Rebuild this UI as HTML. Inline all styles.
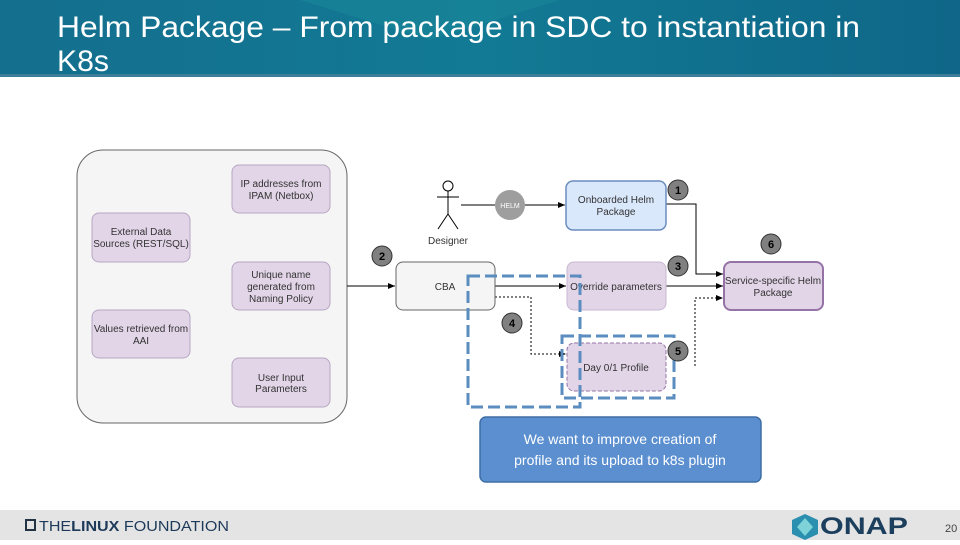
<!DOCTYPE html>
<html><head><meta charset="utf-8"><style>
body{margin:0;width:960px;height:540px;overflow:hidden;background:#fff;font-family:"Liberation Sans",sans-serif}
</style></head><body>
<svg width="960" height="540" xmlns="http://www.w3.org/2000/svg" font-family="Liberation Sans, sans-serif">
<defs>
<linearGradient id="hg" x1="0" y1="0" x2="1" y2="0"><stop offset="0" stop-color="#146e8e"/><stop offset="0.5" stop-color="#127a94"/><stop offset="1" stop-color="#0f6688"/></linearGradient>
<marker id="a" markerWidth="8" markerHeight="8" refX="7" refY="4" orient="auto" markerUnits="userSpaceOnUse"><path d="M0,1 L7,4 L0,7 Z" fill="#000"/></marker>
</defs>
<rect x="0" y="0" width="960" height="76" fill="url(#hg)"/>
<polygon points="300,0 560,0 430,40" fill="#1a8a9a" opacity="0.5"/>
<rect x="0" y="74" width="960" height="3" fill="#3d7f9a"/>
<text x="57" y="37" font-size="30" fill="#fff" textLength="803" lengthAdjust="spacingAndGlyphs">Helm Package – From package in SDC to instantiation in</text>
<text x="57" y="71" font-size="30" fill="#fff" textLength="52" lengthAdjust="spacingAndGlyphs">K8s</text>

<rect x="77" y="150" width="270" height="273" rx="26" fill="#f5f5f5" stroke="#666" stroke-width="1"/>
<g fill="#e1d5e7" stroke="#b8a6c2" stroke-width="1">
<rect x="232" y="165" width="98" height="48" rx="7"/>
<rect x="92" y="213" width="98" height="49" rx="7"/>
<rect x="232" y="262" width="98" height="48" rx="7"/>
<rect x="92" y="310" width="98" height="48" rx="7"/>
<rect x="232" y="358" width="98" height="49" rx="7"/>
</g>
<g font-size="10" fill="#333" text-anchor="middle">
<text x="281" y="187">IP addresses from</text><text x="281" y="199">IPAM (Netbox)</text>
<text x="141" y="235">External Data</text><text x="141" y="247">Sources (REST/SQL)</text>
<text x="281" y="278">Unique name</text><text x="281" y="290">generated from</text><text x="281" y="302">Naming Policy</text>
<text x="141" y="332">Values retrieved from</text><text x="141" y="344">AAI</text>
<text x="281" y="381">User Input</text><text x="281" y="392">Parameters</text>
</g>

<g stroke="#000" stroke-width="1" fill="none">
<circle cx="448" cy="186" r="5" fill="#fff"/>
<line x1="448" y1="191" x2="448" y2="214"/><line x1="437" y1="197" x2="459" y2="197"/>
<line x1="448" y1="214" x2="438" y2="229"/><line x1="448" y1="214" x2="458" y2="229"/>
</g>
<text x="448" y="244" font-size="10" fill="#333" text-anchor="middle">Designer</text>

<g stroke="#000" stroke-width="1" fill="none">
<line x1="461" y1="205" x2="495" y2="205"/>
<line x1="525" y1="205" x2="565" y2="205" marker-end="url(#a)"/>
<polyline points="666,204 696,204 696,274 723,274" marker-end="url(#a)"/>
<line x1="347" y1="286" x2="395" y2="286" marker-end="url(#a)"/>
<line x1="495" y1="286" x2="566" y2="286" marker-end="url(#a)"/>
<line x1="666" y1="286" x2="723" y2="286" marker-end="url(#a)"/>
<polyline points="495,297 531,297 531,354 566,354" stroke-dasharray="2,2" marker-end="url(#a)"/>
<polyline points="695,366 695,298 723,298" stroke-dasharray="2,2" marker-end="url(#a)"/>
</g>
<circle cx="510" cy="205" r="15" fill="#9e9e9e"/>
<text x="510" y="208" font-size="7" fill="#fff" text-anchor="middle">HELM</text>

<rect x="566" y="181" width="100" height="49" rx="7" fill="#dae8fc" stroke="#6c8ebf" stroke-width="1.5"/>
<text x="616" y="203" font-size="10" fill="#333" text-anchor="middle">Onboarded Helm</text>
<text x="616" y="215" font-size="10" fill="#333" text-anchor="middle">Package</text>

<rect x="396" y="262" width="99" height="48" rx="7" fill="#f5f5f5" stroke="#666"/>
<text x="445" y="290" font-size="10" fill="#333" text-anchor="middle">CBA</text>

<rect x="567" y="262" width="99" height="48" rx="7" fill="#e1d5e7" stroke="#c9b8d2"/>
<text x="616" y="290" font-size="10" fill="#333" text-anchor="middle">Override parameters</text>

<rect x="724" y="262" width="99" height="48" rx="7" fill="#e1d5e7" stroke="#9673a6" stroke-width="2"/>
<text x="773" y="284" font-size="10" fill="#333" text-anchor="middle">Service-specific Helm</text>
<text x="773" y="296" font-size="10" fill="#333" text-anchor="middle">Package</text>

<rect x="567" y="343" width="99" height="48" rx="7" fill="#e1d5e7" stroke="#9673a6" stroke-dasharray="4,2"/>
<text x="616" y="371" font-size="10" fill="#333" text-anchor="middle">Day 0/1 Profile</text>

<g fill="none" stroke="#5b8dc0" stroke-width="3" stroke-dasharray="12,5">
<rect x="468" y="276" width="112" height="131"/>
<rect x="562" y="336" width="112" height="62"/>
</g>

<g fill="#808080" stroke="#333" stroke-width="1">
<circle cx="678" cy="190" r="10"/><circle cx="382" cy="256" r="10"/><circle cx="678" cy="266" r="10"/>
<circle cx="512" cy="323" r="10"/><circle cx="678" cy="351" r="10"/><circle cx="771" cy="244" r="10"/>
</g>
<g font-size="11" font-weight="bold" fill="#000" text-anchor="middle">
<text x="678" y="194">1</text><text x="382" y="260">2</text><text x="678" y="270">3</text>
<text x="512" y="327">4</text><text x="678" y="355">5</text><text x="771" y="248">6</text>
</g>

<rect x="480" y="417" width="281" height="65" rx="6" fill="#5b8fd0" stroke="#3e6ea6" stroke-width="1.5"/>
<text x="620" y="444" font-size="14" fill="#fff" text-anchor="middle">We want to improve creation of</text>
<text x="620" y="465" font-size="14" fill="#fff" text-anchor="middle">profile and its upload to k8s plugin</text>

<rect x="0" y="510" width="960" height="30" fill="#e4e4e4"/>
<rect x="26" y="520" width="9" height="10" fill="none" stroke="#234" stroke-width="2"/>
<text x="39" y="531" font-size="15" fill="#1e3a5a" textLength="190" lengthAdjust="spacingAndGlyphs">THE<tspan font-weight="bold">LINUX</tspan> FOUNDATION</text>
<polygon points="805,514 818,520 818,534 805,540 792,534 792,520" fill="#2b8fb0"/>
<polygon points="805,518 813,527 805,536 797,527" fill="#7ed3d8"/>
<text x="820" y="534" font-size="24" font-weight="bold" fill="#1d3f5e" textLength="88" lengthAdjust="spacingAndGlyphs">ONAP</text>
<text x="945" y="532" font-size="11" fill="#444">20</text>
</svg>
</body></html>
